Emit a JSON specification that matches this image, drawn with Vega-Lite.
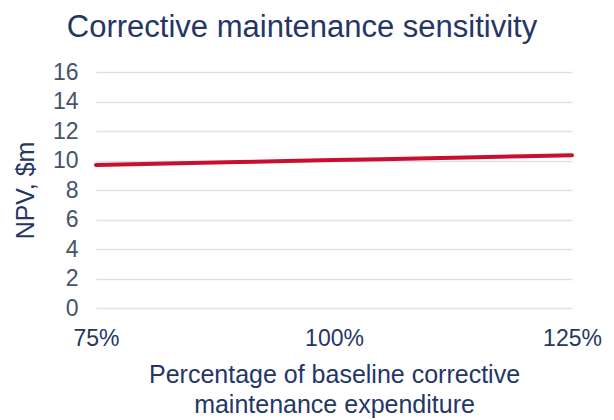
{
  "$schema": "https://vega.github.io/schema/vega-lite/v6.json",
  "width": 476,
  "height": 236,
  "autosize": {"type": "none"},
  "padding": {"left": 96, "top": 72, "right": 42, "bottom": 112},
  "background": "white",
  "config": {
    "view": {"stroke": null},
    "font": "Liberation Sans"
  },
  "title": {
    "text": "Corrective maintenance sensitivity",
    "fontSize": 31,
    "fontWeight": "normal",
    "color": "#253666",
    "anchor": "middle",
    "dx": -32,
    "offset": 17
  },
  "data": {
    "values": [
      {"pct": 0.75, "npv": 9.70},
      {"pct": 0.80, "npv": 9.77},
      {"pct": 0.85, "npv": 9.83},
      {"pct": 0.90, "npv": 9.90},
      {"pct": 0.95, "npv": 9.96},
      {"pct": 1.00, "npv": 10.03},
      {"pct": 1.05, "npv": 10.09},
      {"pct": 1.10, "npv": 10.16},
      {"pct": 1.15, "npv": 10.22},
      {"pct": 1.20, "npv": 10.29},
      {"pct": 1.25, "npv": 10.35}
    ]
  },
  "mark": {"type": "line", "color": "#c8102e", "strokeWidth": 4, "strokeCap": "round"},
  "encoding": {
    "x": {
      "field": "pct",
      "type": "quantitative",
      "scale": {"domain": [0.75, 1.25], "nice": false, "zero": false},
      "axis": {
        "values": [0.75, 1.0, 1.25],
        "format": ".0%",
        "title": ["Percentage of baseline corrective", "maintenance expenditure"],
        "titleFontSize": 25,
        "titleFontWeight": "normal",
        "titleColor": "#253666",
        "titleLineHeight": 30,
        "titlePadding": 12,
        "labelFontSize": 23,
        "labelColor": "#253666",
        "labelPadding": 19,
        "labelFlush": false,
        "domain": false,
        "ticks": false,
        "grid": false
      }
    },
    "y": {
      "field": "npv",
      "type": "quantitative",
      "scale": {"domain": [0, 16], "nice": false},
      "axis": {
        "values": [0, 2, 4, 6, 8, 10, 12, 14, 16],
        "title": "NPV, $m",
        "titleFontSize": 25,
        "titleFontWeight": "normal",
        "titleColor": "#253666",
        "titlePadding": 14,
        "labelFontSize": 23,
        "labelColor": "#44546a",
        "labelPadding": 18,
        "domain": false,
        "ticks": false,
        "grid": true,
        "gridColor": "#dde1e8",
        "gridWidth": 1.5
      }
    }
  }
}
